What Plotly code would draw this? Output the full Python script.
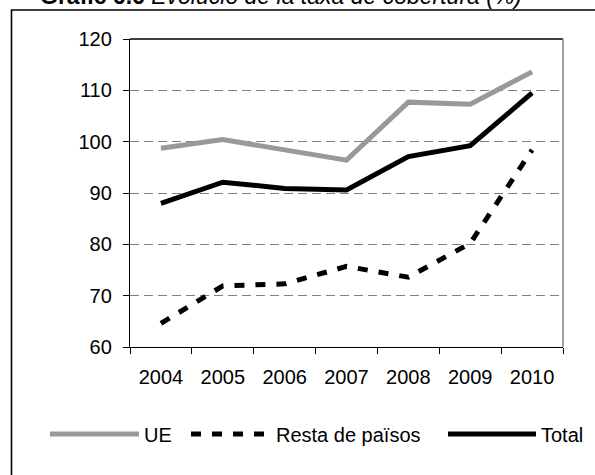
import plotly.graph_objects as go

years = ["2004", "2005", "2006", "2007", "2008", "2009", "2010"]
ue = [98.7, 100.4, 98.4, 96.4, 107.7, 107.3, 113.6]
resta = [64.6, 71.9, 72.3, 75.7, 73.6, 80.2, 98.4]
total = [88.0, 92.1, 90.9, 90.6, 97.1, 99.2, 109.5]

FONT = "Liberation Sans, Arial, sans-serif"

# plot area in pixels: x 130..563, y 39..347
L, R, T, B = 130, 563, 39, 347
W, H = R - L, B - T
FW, FH = 595, 475


def px(x):
    return (x - L) / W


def py(y):
    return (B - y) / H


fig = go.Figure()
fig.add_trace(go.Scatter(x=years, y=ue, name="UE", mode="lines",
                         line=dict(color="#999999", width=5), legend="legend"))
fig.add_trace(go.Scatter(x=years, y=resta, name="Resta de països", mode="lines",
                         line=dict(color="black", width=5, dash="10px,11px"), legend="legend2"))
fig.add_trace(go.Scatter(x=years, y=total, name="Total", mode="lines",
                         line=dict(color="black", width=5), legend="legend3"))

# legends placed in container coords so they don't push the margins
legend_common = dict(orientation="h", xanchor="left", yanchor="middle",
                     xref="container", yref="container",
                     font=dict(family=FONT, size=20, color="black"),
                     bgcolor="rgba(0,0,0,0)", borderwidth=0)

fig.update_layout(
    width=FW, height=FH,
    margin=dict(l=L, r=FW - R, t=T, b=FH - B),
    paper_bgcolor="white", plot_bgcolor="white",
    font=dict(family=FONT, size=20, color="black"),
    showlegend=True,
    legend=dict(x=45 / FW, y=1 - 434 / FH, itemwidth=89, **legend_common),
    legend2=dict(x=186 / FW, y=1 - 434 / FH, itemwidth=80, **legend_common),
    legend3=dict(x=443 / FW, y=1 - 434 / FH, itemwidth=88, **legend_common),
    xaxis=dict(type="category", showgrid=False, showline=True, linecolor="black", linewidth=1.3,
               ticks="outside", ticklen=6, tickcolor="black", tickwidth=1.3,
               tickson="boundaries", ticklabelstandoff=12, range=[-0.5, 6.5],
               tickfont=dict(family=FONT, size=20, color="black")),
    yaxis=dict(range=[60, 120], dtick=10, showgrid=True, gridcolor="#808080", gridwidth=1.3,
               griddash="9px,5px", zeroline=False, showline=True, linecolor="black", linewidth=1.3,
               ticks="outside", ticklen=6, tickcolor="black", tickwidth=1.3,
               ticklabelstandoff=7, tickfont=dict(family=FONT, size=20, color="black")),
)

# plot area border: solid top, grey right
fig.add_shape(type="line", xref="paper", yref="paper", x0=0, x1=1, y0=1, y1=1,
              line=dict(color="black", width=1.3))
fig.add_shape(type="line", xref="paper", yref="paper", x0=1, x1=1, y0=0, y1=1,
              line=dict(color="#808080", width=1.5))

# outer frame
fig.add_shape(type="rect", xref="paper", yref="paper", x0=px(11.5), x1=px(610),
              y0=py(490), y1=py(10), line=dict(color="black", width=1.6), layer="below")

fig.add_annotation(text="<b>Gràfic 6.6</b> <i>Evolució de la taxa de cobertura (%)</i>",
                   xref="paper", yref="paper", x=px(38), y=py(11), xanchor="left", yanchor="bottom",
                   showarrow=False, font=dict(family=FONT, size=23, color="black"))

fig.write_html("out.html", config={"displayModeBar": False},
               post_script="document.body.style.margin='0';")
